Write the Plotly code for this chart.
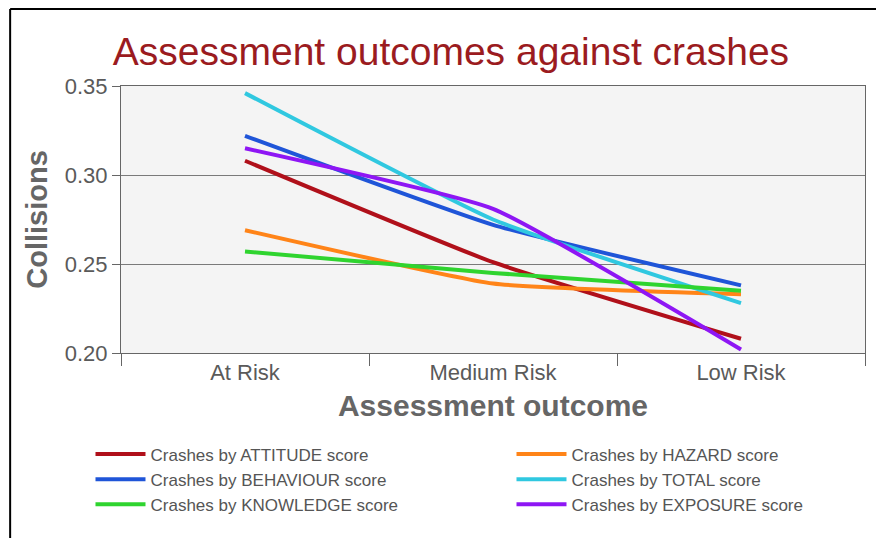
import plotly.graph_objects as go

categories = ["At Risk", "Medium Risk", "Low Risk"]
attitude = [0.308, 0.251, 0.208]
hazard = [0.269, 0.239, 0.233]
behaviour = [0.322, 0.272, 0.238]
total = [0.346, 0.275, 0.228]
knowledge = [0.257, 0.245, 0.235]
exposure = [0.315, 0.281, 0.202]

series = [
    ("Crashes by ATTITUDE score", attitude, "#b0101a"),
    ("Crashes by HAZARD score", hazard, "#ff8418"),
    ("Crashes by BEHAVIOUR score", behaviour, "#1f55d8"),
    ("Crashes by TOTAL score", total, "#30c8e0"),
    ("Crashes by KNOWLEDGE score", knowledge, "#2fd42f"),
    ("Crashes by EXPOSURE score", exposure, "#8e16f4"),
]

font = "Liberation Sans, Arial, sans-serif"
fig = go.Figure()
for name, vals, col in series:
    fig.add_trace(go.Scatter(
        x=categories, y=vals, name=name, mode="lines",
        line=dict(color=col, width=4, shape="spline", smoothing=0.4),
    ))

fig.update_layout(
    width=876, height=530,
    margin=dict(l=113, r=19, t=78, b=185, autoexpand=False),
    paper_bgcolor="white",
    plot_bgcolor="#f4f4f4",
    font=dict(family=font, color="#666666"),
    title=dict(text="Assessment outcomes against crashes", x=0.4435, xref="paper",
               xanchor="center", y=0.918, yanchor="middle",
               font=dict(size=39, color="#9b1b20", family=font)),
    xaxis=dict(
        type="category", tickson="boundaries", ticks="outside", ticklen=12,
        tickcolor="#666", showgrid=False, showline=True, linecolor="#666",
        linewidth=1, mirror=True, tickfont=dict(size=22, color="#5a5a5a"),
        title=dict(text="<b>Assessment outcome</b>", font=dict(size=30, color="#666"),
                   standoff=10),
        range=[-0.5, 2.5],
    ),
    yaxis=dict(
        range=[0.2, 0.35], dtick=0.05, tickformat=".2f", ticks="outside",
        ticklen=8, tickcolor="#666", showgrid=True, gridcolor="#7a7a7a",
        gridwidth=1, showline=True, linecolor="#666", mirror=True,
        zeroline=False, tickfont=dict(size=22, color="#5a5a5a"),
        title=dict(text="<b>Collisions</b>", font=dict(size=29, color="#666"),
                   standoff=8),
    ),
    legend=dict(
        orientation="h", x=-0.041, y=-0.313, xanchor="left", yanchor="top",
        entrywidth=356, entrywidthmode="pixels", tracegroupgap=0,
        itemwidth=50,
        font=dict(size=17, color="#555", family=font),
        bgcolor="rgba(0,0,0,0)",
    ),
    showlegend=True,
)

fig.add_shape(type="line", xref="paper", yref="paper", x0=-0.149, x1=1.05,
              y0=1.288, y1=1.288, line=dict(color="black", width=2))
fig.add_shape(type="line", xref="paper", yref="paper", x0=-0.149, x1=-0.149,
              y0=1.288, y1=-0.75, line=dict(color="black", width=2))

fig.write_html("out.html")
